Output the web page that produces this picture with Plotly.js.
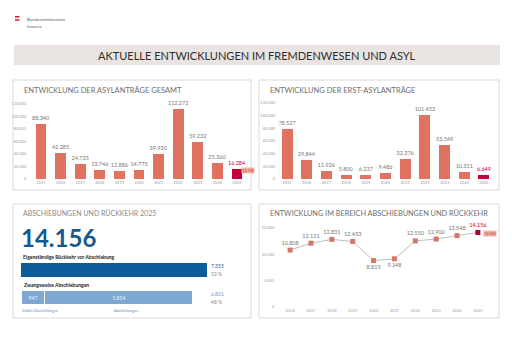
<!DOCTYPE html>
<html><head><meta charset="utf-8">
<script src="https://cdn.plot.ly/plotly-3.0.1.min.js"></script>
<style>html,body{margin:0;padding:0;background:#fff}#c{width:512px;height:362px}</style>
</head><body><div id="c"></div>
<script>
// ---- data ----
const yearsApps = ['2015','2016','2017','2018','2019','2020','2021','2022','2023','2024','2025'];
const totalApps = [88340,42285,24735,13746,12886,14775,39930,112272,59232,25360,16284];
const firstApps = [78527,29844,11926,5800,6237,9486,32376,101452,53549,10311,6649];
const yearsReturns = ['2016','2017','2018','2019','2020','2021','2022','2023','2024','2025'];
const returnsTotal = [10808,12121,12831,12433,8815,9148,12550,12900,13548,14156];
const returnCats = ['Zwangsweise Abschiebungen','Eigenständige Rückkehr vor Abschiebung'];
const voluntaryReturns = 7355;
const dublinTransfers = 947;
const deportations = 5854;
const compareTotal = 10738;
const compareReturns = 12020;
const appTicks = [0,20000,40000,60000,80000,100000,120000];
const returnTicks = [0,5000,10000,15000];

// ---- helpers ----
const fmt = n => String(n).replace(/\B(?=(\d{3})+(?!\d))/g,'.');
const W = 512, H = 362;
const px = x => x / W, py = y => 1 - y / H;
const FONT = 'Lato, "Open Sans", sans-serif';
const SAL = '#e07262', RED = '#c4003a';

const lastIdx = yearsApps.length - 1;
const barColors = yearsApps.map((_, i) => i === lastIdx ? RED : SAL);
const barTextColors = yearsApps.map((_, i) => i === lastIdx ? RED : '#777');

const forced = dublinTransfers + deportations;
const totalRet = voluntaryReturns + forced;
const pctVol = Math.round(voluntaryReturns / totalRet * 100);
const pctForced = Math.round(forced / totalRet * 100);

function barTrace(y, xa, ya) {
  return {
    type: 'bar', x: yearsApps, y: y, xaxis: xa, yaxis: ya, width: 0.56,
    marker: {color: barColors},
    text: y.map(fmt), textposition: 'outside', constraintext: 'none', cliponaxis: false,
    textfont: {size: 5.5, color: barTextColors, family: FONT}, hoverinfo: 'skip'
  };
}

const lastR = yearsReturns.length - 1;
const traces = [
  barTrace(totalApps, 'x', 'y'),
  barTrace(firstApps, 'x2', 'y2'),
  {type: 'bar', orientation: 'h', y: [returnCats[1]], x: [voluntaryReturns], xaxis: 'x3', yaxis: 'y3',
   width: 0.5, marker: {color: '#0d5b98'}, hoverinfo: 'skip'},
  {type: 'bar', orientation: 'h', y: [returnCats[0]], x: [dublinTransfers], xaxis: 'x3', yaxis: 'y3',
   width: 0.5, marker: {color: '#7fa7d4', line: {color: '#ffffff', width: 1}},
   text: [fmt(dublinTransfers)], textposition: 'inside', insidetextanchor: 'middle',
   textfont: {size: 5, color: '#eaf1f9', family: FONT}, hoverinfo: 'skip'},
  {type: 'bar', orientation: 'h', y: [returnCats[0]], x: [deportations], xaxis: 'x3', yaxis: 'y3',
   width: 0.5, marker: {color: '#7fa7d4', line: {color: '#ffffff', width: 1}},
   text: [fmt(deportations)], textposition: 'inside', insidetextanchor: 'middle',
   textfont: {size: 5, color: '#eaf1f9', family: FONT}, hoverinfo: 'skip'},
  {type: 'scatter', mode: 'lines+markers+text', x: yearsReturns, y: returnsTotal, xaxis: 'x4', yaxis: 'y4',
   line: {color: '#bdbdbd', width: 1},
   marker: {symbol: 'square', size: 5, color: yearsReturns.map((_, i) => i === lastR ? '#a8002f' : '#d4766c')},
   text: returnsTotal.map(fmt),
   textposition: returnsTotal.map((v, i) => (i === 4 || i === 5) ? 'bottom center' : 'top center'),
   textfont: {size: 5.5, color: yearsReturns.map((_, i) => i === lastR ? RED : '#777'), family: FONT},
   cliponaxis: false, hoverinfo: 'skip'}
];

const tickFont = {size: 4, color: '#a0a0a0', family: FONT};
function catX(domain, anchor) {
  return {domain: domain, anchor: anchor, type: 'category', showgrid: false, zeroline: false, showline: false,
          ticks: '', tickfont: tickFont, fixedrange: true};
}
function valY(domain, anchor, range, ticks, standoff) {
  return {domain: domain, anchor: anchor, range: range, tickvals: ticks, tickformat: ',d', showgrid: false,
          zeroline: false, showline: false, ticks: '', tickfont: tickFont, fixedrange: true,
          ticklabelstandoff: standoff};
}

const ann = (x, y, text, o = {}) => Object.assign({
  xref: 'paper', yref: 'paper', x: px(x), y: py(y), text: text, showarrow: false,
  xanchor: 'left', yanchor: 'middle', font: {size: 7.5, color: '#6e6e6e', family: FONT}
}, o);

const annotations = [
  ann(25, 19, 'Bundesministerium', {font: {size: 4.5, color: '#555', family: FONT}}),
  ann(25, 26, 'Inneres', {font: {size: 4.5, color: '#555', family: FONT}}),
  ann(257, 55, 'AKTUELLE ENTWICKLUNGEN IM FREMDENWESEN UND ASYL',
      {xanchor: 'center', font: {size: 11, color: '#2e2e2e', family: FONT}}),
  ann(22, 90, 'ENTWICKLUNG DER ASYLANTRÄGE GESAMT'),
  ann(268, 90, 'ENTWICKLUNG DER ERST-ASYLANTRÄGE'),
  ann(21, 213, 'ABSCHIEBUNGEN UND RÜCKKEHR 2025', {font: {size: 7, color: '#8a8a8a', family: FONT}}),
  ann(268, 213, 'ENTWICKLUNG IM BEREICH ABSCHIEBUNGEN UND RÜCKKEHR', {font: {size: 7.3, color: '#6e6e6e', family: FONT}}),
  ann(19, 237, '<b>' + fmt(totalRet) + '</b>', {font: {size: 24, color: '#17598f', family: FONT}}),
  ann(21, 257, '<b>' + returnCats[1] + '</b>', {font: {size: 5, color: '#222', family: FONT}}),
  ann(22, 285, '<b>' + returnCats[0] + '</b>', {font: {size: 5, color: '#222', family: FONT}}),
  ann(209, 266, fmt(voluntaryReturns), {font: {size: 5, color: '#17598f', family: FONT}}),
  ann(209, 274, pctVol + ' %', {font: {size: 5, color: '#888', family: FONT}}),
  ann(209, 294, fmt(forced), {font: {size: 5, color: '#6f9ccf', family: FONT}}),
  ann(209, 302, pctForced + ' %', {font: {size: 5, color: '#888', family: FONT}}),
  ann(20, 310, 'Dublin-Überstellungen', {font: {size: 3.6, color: '#5a8cc8', family: FONT}}),
  ann(112, 310, 'Abschiebungen', {font: {size: 3.6, color: '#5a8cc8', family: FONT}}),
  ann(248, 171, fmt(compareTotal), {xanchor: 'center', bgcolor: '#f2b2a6', borderpad: 0.5,
      font: {size: 3.5, color: '#b3363a', family: FONT}}),
  ann(490, 233, fmt(compareReturns), {xanchor: 'center', bgcolor: '#f2b2a6', borderpad: 0.5,
      font: {size: 3.5, color: '#b3363a', family: FONT}})
];

const rect = (x0, y0, x1, y1, o) => Object.assign({type: 'rect', xref: 'paper', yref: 'paper',
  x0: px(x0), x1: px(x1), y0: py(y1), y1: py(y0)}, o);
const panel = (x0, y0, x1, y1) => rect(x0, y0, x1, y1, {line: {color: '#d9d9d9', width: 1}, fillcolor: 'rgba(0,0,0,0)'});

const shapes = [
  rect(14, 45, 500, 65, {line: {width: 0}, fillcolor: '#e9e4e1', layer: 'below'}),
  rect(15, 16, 19.5, 17.6, {line: {width: 0}, fillcolor: '#d6243a'}),
  rect(15, 19.2, 19.5, 20.8, {line: {width: 0}, fillcolor: '#d6243a'}),
  panel(13, 80, 251, 190),
  panel(259, 80, 499, 190),
  panel(13, 204, 251, 318),
  panel(259, 204, 499, 318)
];

const layout = {
  width: W, height: H, margin: {l: 0, r: 0, t: 0, b: 0}, showlegend: false,
  paper_bgcolor: '#fff', plot_bgcolor: 'rgba(0,0,0,0)', separators: ',.',
  font: {family: FONT}, barmode: 'stack',
  xaxis: catX([px(31.2), px(246.8)], 'y'),
  yaxis: valY([py(179), py(104)], 'x', [0, 120000], appTicks, 4),
  xaxis2: catX([px(277.2), px(493.8)], 'y2'),
  yaxis2: valY([py(179), py(103)], 'x2', [0, 120000], appTicks, 1),
  xaxis3: {domain: [px(21), px(207)], anchor: 'y3', range: [0, voluntaryReturns], visible: false, fixedrange: true},
  yaxis3: {domain: [py(311.25), py(256.25)], anchor: 'x3', type: 'category', categoryorder: 'array',
           categoryarray: returnCats, range: [-0.5, 1.5], visible: false, fixedrange: true},
  xaxis4: catX([px(276.2), px(491.8)], 'y4'),
  yaxis4: valY([py(307), py(228)], 'x4', [0, 15000], returnTicks, 1),
  annotations: annotations, shapes: shapes
};

Plotly.newPlot('c', traces, layout, {staticPlot: true, displayModeBar: false});
</script></body></html>
